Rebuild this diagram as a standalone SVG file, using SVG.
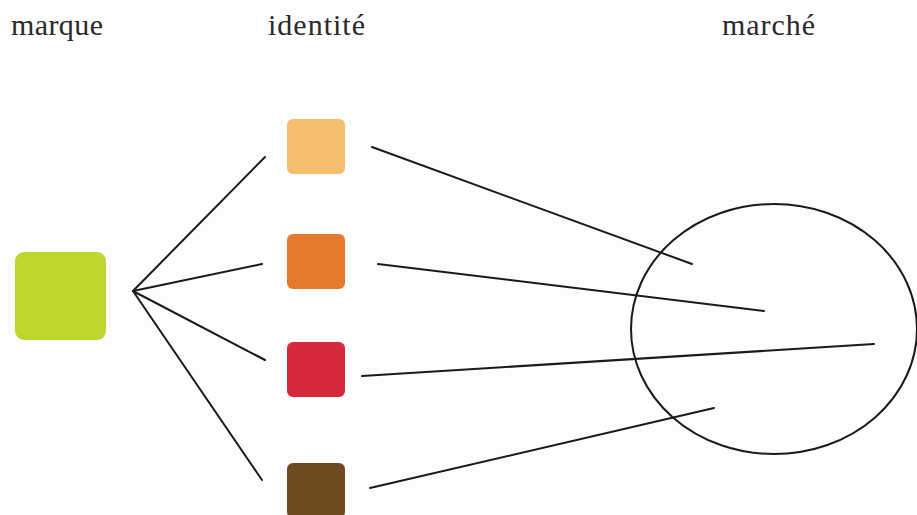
<svg xmlns="http://www.w3.org/2000/svg" width="917" height="515" viewBox="0 0 917 515">
<style>
text{font-family:"Liberation Serif","DejaVu Serif",serif;font-size:30px;fill:#2a2a2a}
.c line{stroke:#1a1a1a;stroke-width:2;stroke-linecap:round}
</style>
<rect width="917" height="515" fill="#fdfdfd"/>
<text x="11" y="35" textLength="92">marque</text>
<text x="268" y="35" textLength="97">identité</text>
<text x="722" y="35" textLength="93">marché</text>
<g id="marque"><rect x="15" y="252" width="91" height="88" rx="9" fill="#bfd62e"/></g>
<g id="id1"><rect x="287" y="119" width="58" height="55" rx="6" fill="#f5be6e"/></g>
<g id="id2"><rect x="287" y="234" width="58" height="55" rx="6" fill="#e57a2c"/></g>
<g id="id3"><rect x="287" y="342" width="58" height="55" rx="6" fill="#d42a3c"/></g>
<g id="id4"><rect x="287" y="463" width="58" height="55" rx="6" fill="#6e4a20"/></g>
<g id="marche"><ellipse cx="774" cy="329" rx="143" ry="125" fill="none" stroke="#1a1a1a" stroke-width="2"/></g>
<g class="c" id="connectors">
<line x1="133" y1="291" x2="265" y2="157"/>
<line x1="133" y1="291" x2="262" y2="264"/>
<line x1="133" y1="291" x2="265" y2="360"/>
<line x1="133" y1="291" x2="262" y2="480"/>
<line x1="372" y1="147" x2="692" y2="264"/>
<line x1="378" y1="264" x2="764" y2="311"/>
<line x1="362" y1="376" x2="874" y2="344"/>
<line x1="370" y1="488" x2="714" y2="408"/>
</g>
</svg>
